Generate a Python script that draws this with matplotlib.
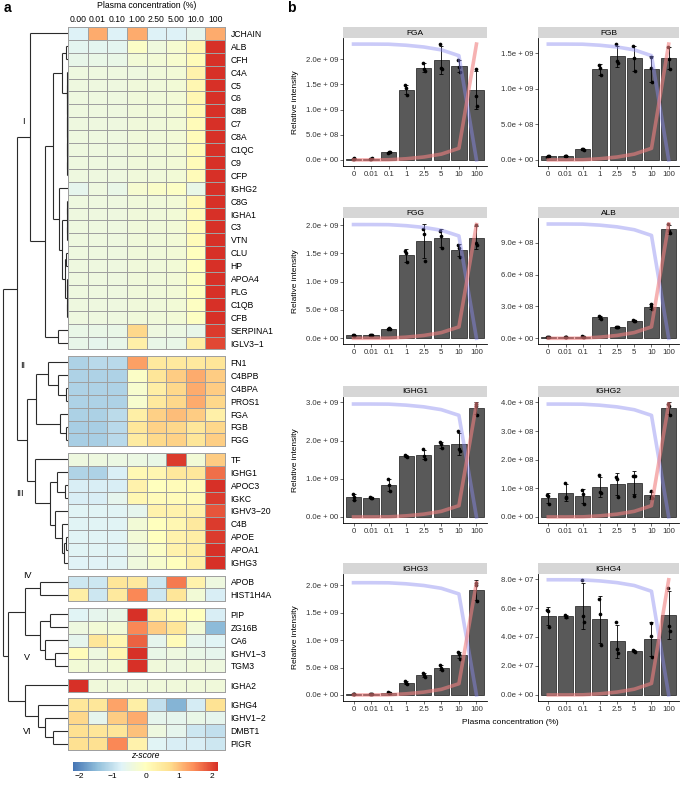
import numpy as np
import matplotlib
matplotlib.use("Agg")
import matplotlib.pyplot as plt
from matplotlib.colors import LinearSegmentedColormap, Normalize
from matplotlib.cm import ScalarMappable

plt.rcParams['font.family'] = ['Liberation Sans', 'DejaVu Sans']

W, H = 680, 785
fig = plt.figure(figsize=(W / 100, H / 100), dpi=100)


def ax_px(x0, y0, x1, y1, **kw):
    return fig.add_axes([x0 / W, 1 - y1 / H, (x1 - x0) / W, (y1 - y0) / H], **kw)


# ------------------------------------------------------------------ panel a data
conc_labels = ["0.00", "0.01", "0.10", "1.00", "2.50", "5.00", "10.0", "100"]

rows_I = ["JCHAIN", "ALB", "CFH", "C4A", "C5", "C6", "C8B", "C7", "C8A", "C1QC", "C9", "CFP",
          "IGHG2", "C8G", "IGHA1", "C3", "VTN", "CLU", "HP", "APOA4", "PLG", "C1QB", "CFB",
          "SERPINA1", "IGLV3\u22121"]
z_I = [
    [-0.75, 1.20, -0.75, 1.20, -0.75, -0.75, -0.60, 1.20],
    [-0.63, -0.63, -0.62, -0.09, -0.38, -0.21, 0.21, 2.36],
    [-0.55, -0.50, -0.50, -0.30, -0.30, -0.20, 0.10, 2.40],
    [-0.40, -0.40, -0.40, -0.40, -0.35, -0.30, 0.30, 2.40],
    [-0.40, -0.40, -0.40, -0.35, -0.35, -0.30, 0.20, 2.45],
    [-0.40, -0.40, -0.40, -0.35, -0.35, -0.30, 0.20, 2.45],
    [-0.40, -0.40, -0.40, -0.35, -0.35, -0.30, 0.15, 2.45],
    [-0.40, -0.40, -0.40, -0.35, -0.35, -0.30, 0.10, 2.45],
    [-0.40, -0.40, -0.40, -0.35, -0.35, -0.30, 0.10, 2.45],
    [-0.40, -0.40, -0.40, -0.35, -0.35, -0.30, 0.10, 2.45],
    [-0.40, -0.40, -0.40, -0.35, -0.35, -0.30, 0.10, 2.45],
    [-0.40, -0.40, -0.40, -0.35, -0.35, -0.30, 0.10, 2.45],
    [-0.60, -0.41, -0.50, -0.22, -0.12, -0.07, -0.50, 2.43],
    [-0.40, -0.40, -0.40, -0.35, -0.35, -0.30, 0.15, 2.45],
    [-0.40, -0.40, -0.40, -0.35, -0.35, -0.30, 0.10, 2.45],
    [-0.40, -0.40, -0.40, -0.35, -0.35, -0.30, 0.10, 2.45],
    [-0.40, -0.40, -0.40, -0.35, -0.35, -0.30, 0.10, 2.45],
    [-0.40, -0.40, -0.40, -0.35, -0.35, -0.30, 0.00, 2.45],
    [-0.40, -0.40, -0.40, -0.35, -0.35, -0.30, 0.00, 2.45],
    [-0.40, -0.40, -0.40, -0.35, -0.35, -0.30, -0.05, 2.45],
    [-0.40, -0.40, -0.40, -0.35, -0.35, -0.30, -0.05, 2.45],
    [-0.40, -0.40, -0.40, -0.35, -0.35, -0.30, -0.05, 2.45],
    [-0.40, -0.40, -0.40, -0.35, -0.35, -0.30, -0.05, 2.45],
    [-0.50, -0.50, -0.50, 0.80, -0.40, -0.45, -0.55, 2.10],
    [-0.55, -0.60, -0.55, 0.35, -0.50, -0.50, 0.40, 2.00],
]

rows_II = ["FN1", "C4BPB", "C4BPA", "PROS1", "FGA", "FGB", "FGG"]
z_II = [
    [-1.20, -1.10, -1.10, 1.30, 0.50, 0.50, 0.50, 0.60],
    [-1.20, -1.20, -1.20, -0.10, 0.60, 0.90, 1.20, 0.90],
    [-1.20, -1.20, -1.20, -0.20, 0.40, 0.80, 1.20, 0.90],
    [-1.20, -1.20, -1.20, -0.20, 0.50, 0.80, 1.20, 0.80],
    [-1.22, -1.22, -1.08, 0.38, 0.86, 1.04, 0.90, 0.35],
    [-1.25, -1.25, -1.10, 0.57, 0.85, 0.80, 0.58, 0.80],
    [-1.25, -1.25, -1.09, 0.47, 0.79, 0.85, 0.59, 0.88],
]

rows_III = ["TF", "IGHG1", "APOC3", "IGKC", "IGHV3\u221220", "C4B", "APOE", "APOA1", "IGHG3"]
z_III = [
    [-0.40, -0.40, -0.45, -0.45, -0.50, 2.10, -0.30, 0.90],
    [-1.18, -1.19, -0.79, 0.17, 0.21, 0.54, 0.56, 1.69],
    [-0.80, -0.80, -0.80, 0.30, 0.00, 0.10, 0.10, 2.20],
    [-0.80, -0.80, -0.60, 0.20, 0.10, 0.10, 0.10, 2.10],
    [-0.70, -0.70, -0.70, -0.60, 0.30, 0.30, 0.30, 1.90],
    [-0.70, -0.70, -0.70, -0.30, 0.00, 0.20, 0.50, 2.10],
    [-0.70, -0.70, -0.70, -0.30, 0.00, 0.30, 0.40, 2.10],
    [-0.70, -0.70, -0.70, -0.40, -0.10, 0.30, 0.40, 2.20],
    [-0.71, -0.72, -0.68, -0.38, -0.18, 0.03, 0.39, 2.27],
]

rows_IV = ["APOB", "HIST1H4A"]
z_IV = [
    [-0.90, -0.90, 0.60, 0.50, -0.90, 1.60, 0.30, -0.40],
    [0.40, -0.90, 0.50, 1.50, -0.90, 0.60, -0.30, -0.80],
]

rows_V = ["PIP", "ZG16B", "CA6", "IGHV1\u22123", "TGM3"]
z_V = [
    [-0.70, -0.60, -0.50, 2.20, 0.30, 0.10, 0.00, -0.80],
    [-0.40, -0.30, -0.30, 1.50, 0.90, 0.60, -0.30, -1.50],
    [-0.60, 0.60, 0.20, 1.80, -0.60, 0.10, -0.60, -0.70],
    [0.10, -0.40, 0.20, 2.40, -0.50, -0.40, -0.50, -0.60],
    [-0.30, -0.35, -0.30, 2.45, -0.35, -0.40, -0.35, -0.40],
]

rows_IGHA2 = ["IGHA2"]
z_IGHA2 = [
    [2.45, -0.35, -0.35, -0.35, -0.35, -0.35, -0.35, -0.35],
]

rows_VI = ["IGHG4", "IGHV1\u22122", "DMBT1", "PIGR"]
z_VI = [
    [0.57, 0.57, 1.26, 0.38, -1.01, -1.57, -0.83, 0.66],
    [0.80, -0.60, 0.90, 1.20, -0.60, -0.60, -0.50, -0.60],
    [0.70, 0.60, 0.60, 1.00, -0.40, -0.60, -0.90, -1.00],
    [0.70, 0.70, 1.50, 0.30, -0.70, -0.80, -0.80, -0.90],
]

row_groups = [rows_I, rows_II, rows_III, rows_IV, rows_V, rows_IGHA2, rows_VI]
z_groups = [z_I, z_II, z_III, z_IV, z_V, z_IGHA2, z_VI]

# dendrogram: (merge height, left, right); leaves are row names
tree_I = (38, "JCHAIN",
          (23,
           (15,
            (6, (2, "ALB", "CFH"),
             (1.5, "C4A", (1.0, (0.6, "C5", "C6"),
                           (0.8, (0.5, "C8B", "C7"),
                            (0.7, (0.4, "C8A", "C1QC"), (0.6, "C9", "CFP")))))),
            (9, "IGHG2",
             (6, (1.5, (1.0, "C8G", "IGHA1"), (1.0, "C3", "VTN")),
              (3, (2, "CLU", "HP"), (1.5, (1.0, "APOA4", "PLG"), (1.0, "C1QB", "CFB")))))),
           (10, "SERPINA1", "IGLV3\u22121")))
tree_II = (32, (20, "FN1", (10, "C4BPB", (2, "C4BPA", "PROS1"))),
           (8, "FGA", (2, "FGB", "FGG")))
tree_III = (33, "TF", (18, (11, "IGHG1", (3, "APOC3", "IGKC")),
                       (13, "IGHV3\u221220", (6, "C4B", (4, (2, "APOE", "APOA1"), "IGHG3")))))
tree_IV = (28, "APOB", "HIST1H4A")
tree_V = (28, (18, "PIP", "ZG16B"), (23, "CA6", (13, "IGHV1\u22123", "TGM3")))
tree_VI = (30, "IGHG4", (23, "IGHV1\u22122", (15, "DMBT1", "PIGR")))
dendro_tree = (65, (51, tree_I, (41, tree_II, tree_III)),
               (60, (43, tree_IV, tree_V), (43, "IGHA2", tree_VI)))

cluster_labels = ["I", "II", "III", "IV", "V", "VI"]
cluster_label_px = [(23, 122), (23, 366), (20, 493), (27, 575), (27, 657), (27, 732)]

# ------------------------------------------------------------------ panel b data
plasma_pct = [0, 0.01, 0.1, 1, 2.5, 5, 10, 100]
plasma_labels = ["0", "0.01", "0.1", "1", "2.5", "5", "10", "100"]

fga = [[2.0e7, 2.5e7, 3.0e7], [2.0e7, 2.5e7, 3.0e7], [1.45e8, 1.5e8, 1.55e8],
       [1.48e9, 1.42e9, 1.29e9], [1.93e9, 1.80e9, 1.76e9], [2.30e9, 1.83e9, 1.80e9],
       [1.98e9, 1.85e9, 1.75e9], [1.80e9, 1.27e9, 1.08e9]]
fgb = [[4.5e7, 5.0e7, 5.0e7], [5.5e7, 5.0e7, 5.0e7], [1.5e8, 1.6e8, 1.4e8],
       [1.33e9, 1.30e9, 1.19e9], [1.63e9, 1.39e9, 1.36e9], [1.60e9, 1.44e9, 1.25e9],
       [1.45e9, 1.30e9, 1.09e9], [1.59e9, 1.42e9, 1.28e9]]
fgg = [[5.0e7, 5.5e7, 4.5e7], [5.0e7, 5.0e7, 5.0e7], [1.7e8, 1.8e8, 1.6e8],
       [1.54e9, 1.51e9, 1.34e9], [1.93e9, 1.85e9, 1.37e9], [1.90e9, 1.81e9, 1.59e9],
       [1.64e9, 1.60e9, 1.44e9], [2.01e9, 1.69e9, 1.64e9]]
alb = [[1.5e7, 1.2e7, 1.3e7], [1.0e7, 1.1e7, 0.9e7], [2.0e7, 1.5e7, 1.2e7],
       [2.12e8, 1.97e8, 1.84e8], [1.10e8, 1.05e8, 1.03e8], [1.72e8, 1.65e8, 1.60e8],
       [3.22e8, 3.00e8, 2.75e8], [1.075e9, 1.01e9, 0.99e9]]
ighg1 = [[6.0e8, 5.2e8, 4.5e8], [5.2e8, 5.0e8, 5.1e8], [9.9e8, 8.4e8, 6.7e8],
         [1.63e9, 1.60e9, 1.57e9], [1.77e9, 1.61e9, 1.52e9], [1.97e9, 1.90e9, 1.80e9],
         [2.25e9, 1.77e9, 1.73e9], [2.96e9, 2.91e9, 2.67e9]]
ighg2 = [[7.8e7, 7.2e7, 4.5e7], [1.19e8, 6.7e7, 6.9e7], [9.4e7, 8.1e7, 4.6e7],
         [1.45e8, 8.7e7, 8.4e7], [1.40e8, 1.31e8, 7.0e7], [1.43e8, 7.3e7, 1.42e8],
         [9.0e7, 6.8e7, 6.7e7], [3.94e8, 3.88e8, 3.56e8]]
ighg3 = [[2.5e7, 2.0e7, 1.5e7], [1.5e7, 1.7e7, 1.3e7], [5.0e7, 4.0e7, 3.5e7],
         [2.5e8, 2.2e8, 2.0e8], [4.0e8, 3.6e8, 3.3e8], [5.4e8, 5.0e8, 4.6e8],
         [7.8e8, 7.4e8, 6.6e8], [2.05e9, 2.0e9, 1.71e9]]
ighg4 = [[5.88e7, 5.76e7, 4.70e7], [5.53e7, 5.41e7, 5.35e7], [7.95e7, 5.46e7, 5.01e7],
         [6.63e7, 5.60e7, 3.46e7], [5.0e7, 3.2e7, 2.9e7], [3.13e7, 3.06e7, 2.99e7],
         [4.94e7, 4.07e7, 2.64e7], [7.41e7, 4.75e7, 4.40e7]]

panel_names = ["FGA", "FGB", "FGG", "ALB", "IGHG1", "IGHG2", "IGHG3", "IGHG4"]
panel_reps = [fga, fgb, fgg, alb, ighg1, ighg2, ighg3, ighg4]
panel_tick_step = [5e8, 5e8, 5e8, 3e8, 1e9, 1e8, 5e8, 2e7]

# ------------------------------------------------------------------ colours
pal = ["#4575B4", "#91BFDB", "#E0F3F8", "#FFFFBF", "#FEE090", "#FC8D59", "#D73027"]
cmap = LinearSegmentedColormap.from_list("rdylbu_r", pal, N=256)
norm = Normalize(vmin=-2.2, vmax=2.2)

# ------------------------------------------------------------------ panel a
HM_X0, HM_X1, HM_Y0, HM_Y1 = 68, 225, 27, 750
gap = 0.508
axh = ax_px(HM_X0, HM_Y0, HM_X1, HM_Y1)
centers = {}
y = 0.0
all_names, all_centers = [], []
for names, z in zip(row_groups, z_groups):
    n = len(names)
    mesh = axh.pcolormesh(np.arange(9), y + np.arange(n + 1), np.array(z), cmap=cmap, norm=norm,
                          edgecolors="#A0A0A0", linewidth=0.6)
    mesh.set_clip_on(False)
    for k, nm in enumerate(names):
        centers[nm] = y + 0.5 + k
        all_names.append(nm)
        all_centers.append(y + 0.5 + k)
    y += n + gap
total = y - gap
axh.set_xlim(0, 8)
axh.set_ylim(total, 0)
for s in axh.spines.values():
    s.set_visible(False)
axh.yaxis.tick_right()
axh.set_yticks(all_centers)
axh.set_yticklabels(all_names, fontsize=6.2)
axh.tick_params(axis="y", length=0, pad=4)
axh.xaxis.tick_top()
axh.set_xticks(np.arange(8) + 0.5)
axh.set_xticklabels(conc_labels, fontsize=6.2)
axh.tick_params(axis="x", length=0, pad=2)
axh.xaxis.set_label_position("top")
axh.set_xlabel("Plasma concentration (%)", fontsize=6.2, labelpad=5)

# dendrogram
axd = ax_px(0, HM_Y0, HM_X0, HM_Y1)
axd.set_ylim(total, 0)
axd.set_xlim(68, 0)
axd.axis("off")
DCOL = "#2b2b2b"


def draw(node):
    if isinstance(node, str):
        return centers[node], 0.0
    h, left, right = node
    yl, hl = draw(left)
    yr, hr = draw(right)
    axd.plot([hl, h], [yl, yl], color=DCOL, lw=0.8, solid_capstyle="butt")
    axd.plot([hr, h], [yr, yr], color=DCOL, lw=0.8, solid_capstyle="butt")
    axd.plot([h, h], [yl, yr], color=DCOL, lw=0.8, solid_capstyle="butt")
    return (yl + yr) / 2, h


draw(dendro_tree)
for lab, (px, py) in zip(cluster_labels, cluster_label_px):
    fig.text(px / W, 1 - py / H, lab, fontsize=6.5, ha="center", va="center")

# colour bar
cax = ax_px(73, 762, 218, 771)
cb = fig.colorbar(ScalarMappable(norm=norm, cmap=cmap), cax=cax, orientation="horizontal")
cb.outline.set_visible(False)
cb.set_ticks([-2, -1, 0, 1, 2])
cax.tick_params(axis="x", length=0, labelsize=6.0, pad=1.5)
fig.text(145.5 / W, 1 - 755 / H, "z-score", fontsize=6.2, style="italic", ha="center", va="center")

fig.text(4 / W, 1 - 8 / H, "a", fontsize=10, fontweight="bold", ha="left", va="center")
fig.text(287 / W, 1 - 8 / H, "b", fontsize=10, fontweight="bold", ha="left", va="center")

# ------------------------------------------------------------------ panel b
col_x = [(343, 487), (538, 679)]
row_y = [(38.3, 165.7), (218.3, 344), (396.7, 522.7), (574, 700.7)]
STRIP_H = 11
jit = [-0.05, 0.0, 0.05]


def sci(v, pos=None):
    if v == 0:
        return "0.0e + 00"
    e = int(np.floor(np.log10(abs(v)) + 1e-9))
    m = v / 10 ** e
    return f"{m:.1f}e + {e:02d}"


frac = np.array(plasma_pct) / 100.0
xpos = np.arange(len(plasma_pct))
for i, (name, reps, step) in enumerate(zip(panel_names, panel_reps, panel_tick_step)):
    r, c = divmod(i, 2)
    x0, x1 = col_x[c]
    y0, y1 = row_y[r]
    ax = ax_px(x0, y0, x1, y1)
    reps = np.array(reps)
    means = reps.mean(axis=1)
    sds = reps.std(axis=1, ddof=1)
    ax.bar(xpos, means, width=0.87, color="#595959", edgecolor="#1a1a1a", lw=0.5, zorder=2)
    ax.errorbar(xpos, means, yerr=sds, fmt="none", ecolor="black", elinewidth=0.6,
                capsize=1.5, capthick=0.6, zorder=3)
    for k in range(reps.shape[1]):
        ax.scatter(xpos + jit[k], reps[:, k], s=7, color="black", lw=0, zorder=4)
    M = reps.max()
    ax.plot(xpos, (1 - frac) * M, color="#8A8AF0", alpha=0.45, lw=2.6, zorder=5)
    ax.plot(xpos, frac * M, color="#F08080", alpha=0.6, lw=2.6, zorder=5)
    top = max(M, (means + sds).max())
    ax.set_ylim(-0.05 * top, 1.05 * top)
    ax.set_xlim(-0.6, 7.6)
    ax.set_yticks(np.arange(0, 1.05 * top, step))
    ax.yaxis.set_major_formatter(plt.FuncFormatter(sci))
    ax.set_xticks(xpos)
    ax.set_xticklabels(plasma_labels)
    ax.tick_params(labelsize=5.6, length=2, width=0.5, pad=1.5, colors="#333333")
    for s in ["top", "right"]:
        ax.spines[s].set_visible(False)
    for s in ["left", "bottom"]:
        ax.spines[s].set_linewidth(0.6)
    if c == 0:
        ax.set_ylabel("Relative intensity", fontsize=6, labelpad=5)
    sax = ax_px(x0, y0 - STRIP_H, x1, y0)
    sax.set_facecolor("#D6D6D6")
    sax.set_xticks([])
    sax.set_yticks([])
    for s in sax.spines.values():
        s.set_visible(False)
    sax.text(0.5, 0.45, name, ha="center", va="center", fontsize=6, transform=sax.transAxes)

fig.text(510 / W, 1 - 722 / H, "Plasma concentration (%)", fontsize=6, ha="center", va="center")

fig.savefig("out.png", dpi=100)
